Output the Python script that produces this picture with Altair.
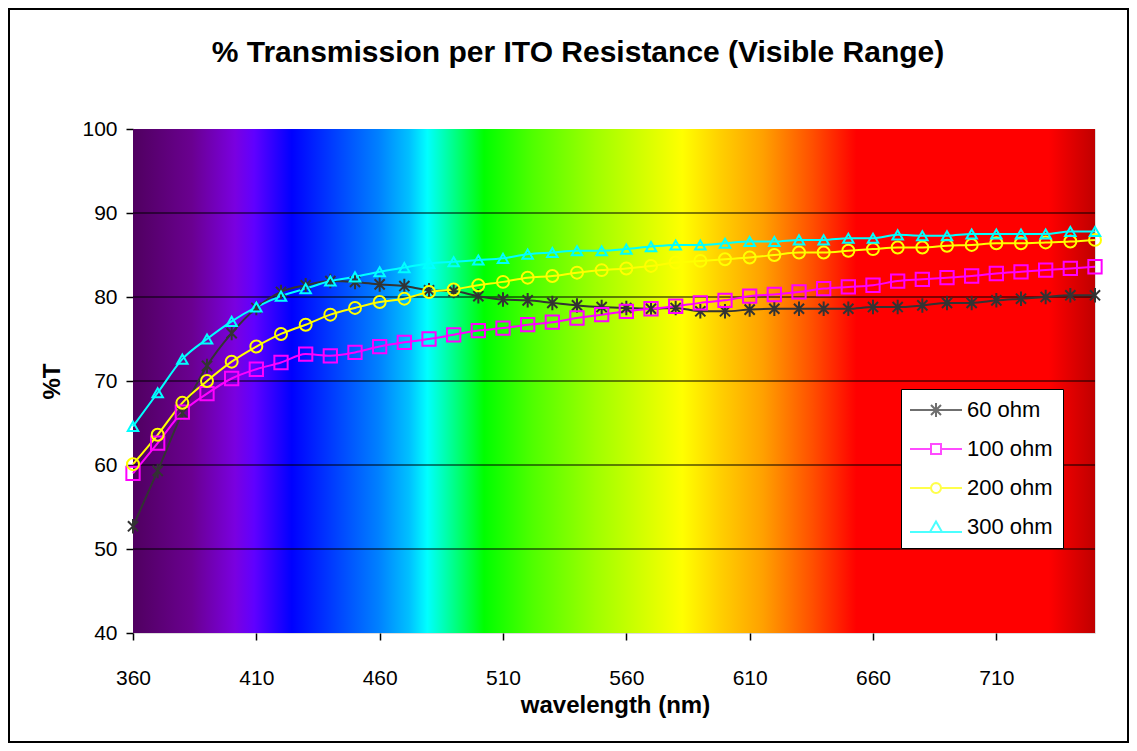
import math
import altair as alt
import pandas as pd

# ---------------- data ----------------
wavelengths = list(range(360, 751, 10))  # 40 points, nm

t_60 = [52.7, 59.3, 66.2, 71.8, 75.7, 78.7, 80.6, 81.4, 81.9, 81.8, 81.5, 81.3,
        80.8, 80.7, 80.1, 79.7, 79.6, 79.3, 79.0, 78.8, 78.7, 78.6, 78.7, 78.3, 78.3, 78.5,
        78.6, 78.6, 78.6, 78.6, 78.8, 78.8, 79.0, 79.3, 79.3, 79.6, 79.8, 80.0, 80.2, 80.2]
t_100 = [59.0, 62.6, 66.3, 68.5, 70.3, 71.4, 72.2, 73.2, 73.0, 73.4, 74.1, 74.6,
         75.0, 75.5, 76.0, 76.3, 76.7, 77.0, 77.5, 77.9, 78.3, 78.6, 78.9, 79.3, 79.6, 80.1,
         80.3, 80.6, 81.0, 81.2, 81.4, 81.9, 82.1, 82.3, 82.5, 82.8, 83.0, 83.2, 83.4, 83.6]
t_200 = [60.1, 63.6, 67.4, 70.0, 72.3, 74.1, 75.6, 76.7, 77.9, 78.7, 79.4, 79.8,
         80.6, 80.9, 81.4, 81.8, 82.3, 82.5, 82.9, 83.2, 83.4, 83.7, 84.1, 84.3, 84.5, 84.7,
         85.0, 85.3, 85.3, 85.5, 85.7, 85.9, 85.9, 86.1, 86.2, 86.4, 86.4, 86.5, 86.6, 86.8]
t_300 = [64.6, 68.6, 72.6, 75.0, 77.1, 78.8, 80.1, 81.0, 81.9, 82.4, 83.0, 83.5,
         84.0, 84.2, 84.4, 84.6, 85.1, 85.3, 85.5, 85.5, 85.7, 86.0, 86.2, 86.2, 86.4, 86.6,
         86.6, 86.8, 86.8, 87.0, 87.0, 87.4, 87.3, 87.3, 87.5, 87.5, 87.5, 87.5, 87.8, 87.8]

series_names = ["60 ohm", "100 ohm", "200 ohm", "300 ohm"]
series_values = [t_60, t_100, t_200, t_300]
series_colors = ["#333333", "#ff00ff", "#ffff00", "#00ffff"]

x_tick_values = [360, 410, 460, 510, 560, 610, 660, 710]
y_tick_values = [40, 50, 60, 70, 80, 90, 100]
grid_values = [50, 60, 70, 80, 90]
x_domain = [360, 750]
y_domain = [40, 100]

title_text = "% Transmission per ITO Resistance (Visible Range)"
x_title = "wavelength (nm)"
y_title = "%T"

# spectrum background colour stops (fraction of x range, colour)
spectrum_stops = [
    (0.000, "#500060"), (0.061, "#6a0090"), (0.106, "#7a00e0"), (0.126, "#6000ff"),
    (0.165, "#0000ff"), (0.210, "#0040ff"), (0.255, "#0080ff"), (0.287, "#00c0ff"),
    (0.306, "#00ffff"), (0.332, "#00ff90"), (0.365, "#00ff00"), (0.416, "#50ff00"),
    (0.481, "#a0ff00"), (0.571, "#ffff00"), (0.610, "#ffd000"), (0.655, "#ffa000"),
    (0.706, "#ff5000"), (0.752, "#ff0000"), (0.952, "#ff0000"), (1.000, "#c00000"),
]

FONT = "Liberation Sans"

# ---------------- tables ----------------
rows = []
for name, vals in zip(series_names, series_values):
    for wl, v in zip(wavelengths, vals):
        rows.append({"wl": wl, "t": v, "series": name})
df = pd.DataFrame(rows)

bg_df = pd.DataFrame([{"wl": x_domain[0], "wl2": x_domain[1], "t": y_domain[0], "t2": y_domain[1]}])
grid_df = pd.DataFrame({"t": grid_values})

xscale = alt.Scale(domain=x_domain, nice=False, zero=False)
yscale = alt.Scale(domain=y_domain, nice=False, zero=False)

# marker shapes
star_path = "M-0.7,-0.7L0.7,0.7M-0.7,0.7L0.7,-0.7M0,-1L0,1"
marker_shapes = [star_path, "square", "circle", "triangle-up"]
marker_sizes = [210, 110, 105, 160]


def poly_circle(r, n=16):
    pts = []
    for k in range(n):
        a = 2 * math.pi * k / n
        pts.append(f"{r*math.cos(a):.3f},{r*math.sin(a):.3f}")
    return "M" + "L".join(pts) + "Z"


legend_paths = [
    "M-2.6,0L2.6,0M-0.5,-0.5L0.5,0.5M-0.5,0.5L0.5,-0.5M0,-0.7L0,0.7",
    "M-2.6,0L-0.5,0M0.5,0L2.6,0M-0.5,-0.5L0.5,-0.5L0.5,0.5L-0.5,0.5Z",
    "M-2.6,0L-0.5,0M0.5,0L2.6,0" + poly_circle(0.5),
    "M-2.6,0.5L2.6,0.5M0,-0.55L0.6,0.5L-0.6,0.5Z",
]

# ---------------- layers ----------------
gradient = alt.Gradient(
    gradient="linear",
    stops=[alt.GradientStop(offset=o, color=c) for o, c in spectrum_stops],
    x1=0, x2=1, y1=0, y2=0,
)

x_axis = alt.Axis(
    values=x_tick_values, format="d", title=x_title,
    titleFont=FONT, titleFontSize=24, titleFontWeight="bold", titleColor="black",
    titleX=482, titleY=72, titleAlign="center", titleBaseline="middle",
    labelFont=FONT, labelFontSize=21, labelColor="black", labelPadding=27,
    labelFlush=False, tickSize=7, tickColor="black", tickWidth=1.5,
    domain=False, grid=False,
)
y_axis = alt.Axis(
    values=y_tick_values, title=y_title,
    titleFont=FONT, titleFontSize=24, titleFontWeight="bold", titleColor="black",
    titleAngle=-90, titleX=-81, titleY=252, titleAlign="center", titleBaseline="middle",
    labelFont=FONT, labelFontSize=21, labelColor="black", labelPadding=9,
    tickSize=7, tickColor="black", tickWidth=1.5, domain=False, grid=False,
)

X = alt.X("wl:Q", scale=xscale, axis=x_axis)
Y = alt.Y("t:Q", scale=yscale, axis=y_axis)

background = alt.Chart(bg_df).mark_rect(fill=gradient).encode(
    x=X, x2="wl2:Q", y=Y, y2="t2:Q",
)

grid = alt.Chart(grid_df).mark_rule(color="black", strokeWidth=1.2).encode(y=Y)

color_scale = alt.Scale(domain=series_names, range=series_colors)

lines = alt.Chart(df).mark_line(interpolate="monotone", strokeWidth=2).encode(
    x=X, y=Y,
    color=alt.Color("series:N", scale=color_scale, legend=None),
    detail="series:N",
)

points = alt.Chart(df).mark_point(filled=False, strokeWidth=2, opacity=1).encode(
    x=X, y=Y,
    color=alt.Color("series:N", scale=color_scale, legend=None),
    shape=alt.Shape("series:N", scale=alt.Scale(domain=series_names, range=marker_shapes), legend=None),
    size=alt.Size("series:N", scale=alt.Scale(domain=series_names, range=marker_sizes), legend=None),
)

legend_def = alt.Legend(
    orient="none", legendX=768, legendY=260, title=None,
    fillColor="white", strokeColor="black", padding=10,
    rowPadding=17, symbolSize=400, symbolOffset=14, labelOffset=20,
    labelFont=FONT, labelFontSize=22, labelColor="black", symbolStrokeWidth=2,
    labelLimit=300,
)

legend_layer = (
    alt.Chart(df)
    .transform_calculate(label="datum.series")
    .transform_filter("datum.wl < 0")
    .mark_point(filled=False, strokeWidth=2, size=400)
    .encode(
        x=X, y=Y,
        color=alt.Color("label:N", scale=alt.Scale(domain=series_names, range=series_colors), legend=legend_def),
        shape=alt.Shape("label:N", scale=alt.Scale(domain=series_names, range=legend_paths), legend=legend_def),
    )
)

title_layer = alt.Chart(pd.DataFrame([{"title": title_text}])).mark_text(
    font=FONT, fontSize=30, fontWeight="bold", color="black", align="center", baseline="middle"
).encode(text="title:N", x=alt.value(445), y=alt.value(-76))

frame = alt.Chart(pd.DataFrame([{"k": 1}])).mark_rect(
    filled=False, stroke="black", strokeWidth=2
).encode(
    x=alt.value(-124), x2=alt.value(995), y=alt.value(-120), y2=alt.value(613)
)

chart = (
    alt.layer(background, grid, lines, points, legend_layer, title_layer, frame)
    .resolve_scale(color="independent", shape="independent")
    .properties(
        width=962,
        height=504,
        autosize=alt.AutoSizeParams(type="none"),
        padding={"left": 125, "top": 121, "right": 34, "bottom": 110},
    )
    .configure_view(stroke="#808080", strokeWidth=2)
    .configure(background="white")
)

chart.save("out.html", embed_options={"renderer": "svg", "actions": False})
